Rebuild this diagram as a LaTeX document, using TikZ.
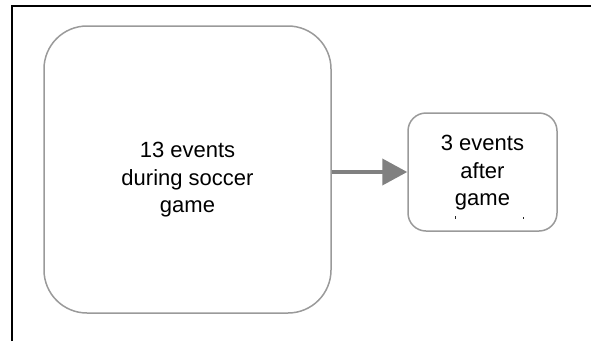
\documentclass[tikz,border=0pt]{standalone}
\usepackage{fontspec}
\setmainfont{Liberation Sans}
\usetikzlibrary{arrows.meta}
\definecolor{boxgray}{HTML}{9A9A9A}
\definecolor{flowgray}{HTML}{808080}
\tikzset{
  eventbox/.style={draw=boxgray, line width=1.5pt, fill=white, inner sep=0pt},
  boxtext/.style={inner sep=0pt, anchor=north, align=center,
    font=\fontsize{22pt}{27.5pt}\selectfont},
  flow/.style={draw=flowgray, line width=4pt,
    -{Triangle[length=25pt, width=26pt, fill=flowgray]}},
  frame/.style={draw=black, line width=2pt}
}
\begin{document}
\begin{tikzpicture}[x=1pt, y=-1pt]
  \useasboundingbox (0,0) rectangle (591,341);
  % outer frame (top and left sides only)
  \draw[frame] (12,341) -- (12,6) -- (591,6);

  % event boxes
  \node[eventbox, rounded corners=43pt, minimum width=287pt, minimum height=287pt]
    (during) at (187.5,169.5) {};
  \node[eventbox, rounded corners=18pt, minimum width=149pt, minimum height=118pt]
    (after) at (482.5,172) {};

  % box labels
  \node[boxtext] (duringtxt) at (187.5,142) {13 events\\during soccer\\game};
  \node[boxtext] (aftertxt) at (482.5,135) {3 events\\after\\game};
  % remnants of a clipped fourth line
  \fill[black!85] (454.5,216) rectangle (455.8,218.5);
  \fill[black!85] (522.5,216.5) rectangle (524,218.5);

  % connector
  \draw[flow] (during.east |- after.west) -- (after.west);
\end{tikzpicture}
\end{document}
